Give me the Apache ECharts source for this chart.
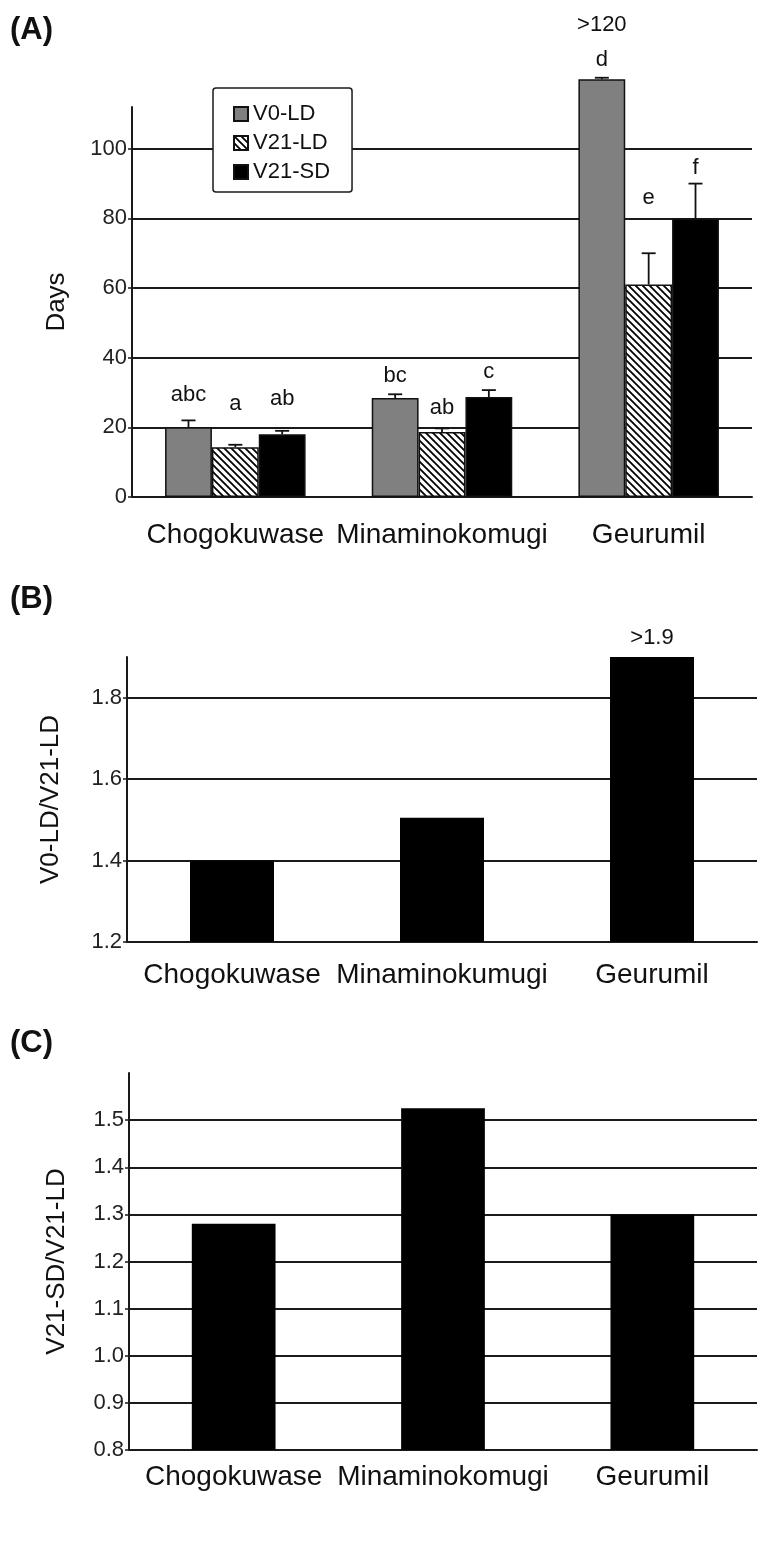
<!DOCTYPE html>
<html>
<head>
<meta charset="utf-8">
<script src="https://cdn.jsdelivr.net/npm/echarts@6/dist/echarts.min.js"></script>
<style>
  html, body { margin: 0; padding: 0; background: #fff; }
  #main { width: 766px; height: 1547px; }
</style>
</head>
<body>
<div id="main"></div>
<script>
// panel A data
var catsA = ['Chogokuwase', 'Minaminokomugi', 'Geurumil'];
var seriesNames = ['V0-LD', 'V21-LD', 'V21-SD'];
var v0LD = [20.0, 28.4, 120];
var v21LD = [14.3, 18.7, 61.0];
var v21SD = [18.0, 28.7, 80.0];
var errV0LD = [2.0, 1.1, 0.4];
var errV21LD = [0.7, 1.0, 9.0];
var errV21SD = [1.0, 2.0, 10.0];
// significance letters and where they sit (days)
var lettersA = [['abc', 'a', 'ab'], ['bc', 'ab', 'c'], ['d', 'e', 'f']];
var letterPosA = [[29.2, 26.6, 28.3], [34.9, 25.7, 35.9], [125.5, 85.8, 94.4]];
var noteA = '>120', notePosA = 135.5;

// panel B data
var catsB = ['Chogokuwase', 'Minaminokumugi', 'Geurumil'];
var ratioB = [1.40, 1.505, 1.90];
var notesB = ['', '', '>1.9'];

// panel C data
var catsC = ['Chogokuwase', 'Minaminokomugi', 'Geurumil'];
var ratioC = [1.28, 1.525, 1.30];

var FONT = '"Liberation Sans", Arial, sans-serif';
var INK = '#111';
var LINE = '#1a1a1a';

// hatch pattern for V21-LD
function hatch() {
	var c = document.createElement('canvas');
	c.width = 7; c.height = 7;
	var g = c.getContext('2d');
	g.fillStyle = '#fff';
	g.fillRect(0, 0, 7, 7);
	g.strokeStyle = '#000';
	g.lineWidth = 1.8;
	g.beginPath();
	g.moveTo(-7, -7); g.lineTo(14, 14);
	g.moveTo(-7, 0); g.lineTo(7, 14);
	g.moveTo(0, -7); g.lineTo(14, 7);
	g.stroke();
	return c;
}

var chart = echarts.init(document.getElementById('main'));

var valsA = [v0LD, v21LD, v21SD];
var errsA = [errV0LD, errV21LD, errV21SD];
var errData = [];
var letterData = [];
for (var s = 0; s < 3; s++) {
	for (var i = 0; i < 3; i++) {
		errData.push([i, s, valsA[s][i], valsA[s][i] + errsA[s][i]]);
		letterData.push([i, s, letterPosA[i][s], lettersA[i][s]]);
	}
}
letterData.push([2, 0, notePosA, noteA]);

var gapA = 0.32;
function offsetX(api, s) {
	var band = api.size([1, 0])[0];
	var bw = band * (1 - gapA) / 3;
	return (s - 1) * bw;
}

function yAxisBase(grid, min, max, interval, name, gap, fmt) {
	return {
		gridIndex: grid, type: 'value', min: min, max: max, interval: interval,
		name: name, nameLocation: 'middle', nameRotate: 90, nameGap: gap,
		nameTextStyle: { fontSize: 26, color: INK, fontFamily: FONT },
		axisLine: { show: true, lineStyle: { color: LINE, width: 2 } },
		axisTick: { show: true, length: 4, lineStyle: { color: LINE, width: 1.5 } },
		axisLabel: { fontSize: 22, color: '#222', fontFamily: FONT, margin: 5, showMaxLabel: false, formatter: fmt },
		splitLine: { show: true, showMaxLine: false, lineStyle: { color: LINE, width: 1.8 } }
	};
}

function xAxisBase(grid, cats, margin) {
	return {
		gridIndex: grid, type: 'category', data: cats,
		axisLine: { lineStyle: { color: LINE, width: 2 } },
		axisTick: { show: false },
		axisLabel: { fontSize: 28, color: INK, fontFamily: FONT, margin: margin, interval: 0 }
	};
}

chart.setOption({
	animation: false,
	textStyle: { fontFamily: FONT },
	title: [
		{ text: '(A)', left: 5, top: 10, textStyle: { fontSize: 31, fontWeight: 'bold', color: INK, fontFamily: FONT } },
		{ text: '(B)', left: 5, top: 579, textStyle: { fontSize: 31, fontWeight: 'bold', color: INK, fontFamily: FONT } },
		{ text: '(C)', left: 5, top: 1023, textStyle: { fontSize: 31, fontWeight: 'bold', color: INK, fontFamily: FONT } }
	],
	legend: {
		data: seriesNames, orient: 'vertical', left: 213, top: 88, icon: 'rect',
		padding: [15, 22, 9, 20], itemWidth: 14, itemHeight: 14, itemGap: 7,
		borderColor: LINE, borderWidth: 1.5, borderRadius: 3, backgroundColor: '#fff',
		textStyle: { fontSize: 22, color: INK, fontFamily: FONT }
	},
	grid: [
		{ left: 132, right: 14, top: 107, height: 390 },
		{ left: 127, right: 9, top: 657, height: 285 },
		{ left: 129, right: 9, top: 1073, height: 377 }
	],
	xAxis: [
		xAxisBase(0, catsA, 24),
		xAxisBase(1, catsB, 19),
		xAxisBase(2, catsC, 13)
	],
	yAxis: [
		yAxisBase(0, 0, 112, 20, 'Days', 62, null),
		yAxisBase(1, 1.2, 1.9, 0.2, 'V0-LD/V21-LD', 63, function (v) { return v.toFixed(1); }),
		yAxisBase(2, 0.8, 1.6, 0.1, 'V21-SD/V21-LD', 59, function (v) { return v.toFixed(1); })
	],
	series: [
		{
			name: 'V0-LD', type: 'bar', xAxisIndex: 0, yAxisIndex: 0, data: v0LD, clip: false,
			barGap: 0, barCategoryGap: (gapA * 100) + '%',
			itemStyle: { color: '#808080', borderColor: '#111', borderWidth: 1.5 }
		},
		{
			name: 'V21-LD', type: 'bar', xAxisIndex: 0, yAxisIndex: 0, data: v21LD,
			itemStyle: { color: { image: hatch(), repeat: 'repeat' }, borderColor: '#111', borderWidth: 1.5 }
		},
		{
			name: 'V21-SD', type: 'bar', xAxisIndex: 0, yAxisIndex: 0, data: v21SD,
			itemStyle: { color: '#000', borderColor: '#111', borderWidth: 1.5 }
		},
		{
			type: 'custom', xAxisIndex: 0, yAxisIndex: 0, data: errData, z: 5,
			renderItem: function (params, api) {
				var dx = offsetX(api, api.value(1));
				var base = api.coord([api.value(0), api.value(2)]);
				var top = api.coord([api.value(0), api.value(3)]);
				var x = base[0] + dx;
				var st = { stroke: '#111', lineWidth: 1.8 };
				return {
					type: 'group', children: [
						{ type: 'line', shape: { x1: x, y1: base[1], x2: x, y2: top[1] }, style: st },
						{ type: 'line', shape: { x1: x - 7, y1: top[1], x2: x + 7, y2: top[1] }, style: st }
					]
				};
			}
		},
		{
			type: 'custom', xAxisIndex: 0, yAxisIndex: 0, data: letterData, z: 5,
			renderItem: function (params, api) {
				var dx = offsetX(api, api.value(1));
				var p = api.coord([api.value(0), api.value(2)]);
				return {
					type: 'text', x: p[0] + dx, y: p[1],
					style: {
						text: letterData[params.dataIndex][3], fill: INK,
						font: '22px ' + FONT, textAlign: 'center', textVerticalAlign: 'middle'
					}
				};
			}
		},
		{
			type: 'bar', xAxisIndex: 1, yAxisIndex: 1, barCategoryGap: '60%',
			data: ratioB.map(function (v, i) {
				return { value: v, label: { show: notesB[i] !== '', formatter: notesB[i] } };
			}),
			label: { position: 'top', distance: 8, fontSize: 22, color: INK, fontFamily: FONT },
			itemStyle: { color: '#000' }
		},
		{
			type: 'bar', xAxisIndex: 2, yAxisIndex: 2, barCategoryGap: '60%', data: ratioC,
			itemStyle: { color: '#000' }
		}
	]
});
</script>
</body>
</html>
